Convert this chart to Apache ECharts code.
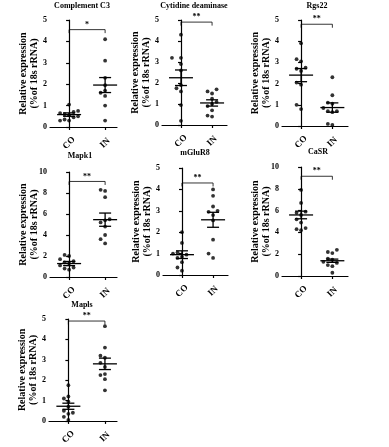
<!DOCTYPE html>
<html><head><meta charset="utf-8">
<script src="https://cdn.jsdelivr.net/npm/echarts@6/dist/echarts.min.js"></script>
<style>html,body{margin:0;padding:0;background:#fff}#c{width:389px;height:447px}</style>
</head><body><div id="c"></div>
<script>
// ---- data ----
const categories = ['CO', 'IN'];
const geneTitles = ['Complement C3', 'Cytidine deaminase', 'Rgs22', 'Mapk1', 'mGluR8', 'CaSR', 'Mapls'];
const yMax = [5, 5, 5, 10, 5, 10, 5];
const yInterval = [1, 1, 1, 2, 1, 2, 1];

const complementC3_CO = [1.05, 0.75, 0.7, 0.65, 0.6, 0.55, 0.5, 0.45, 0.35, 0.3, 0.3];
const complementC3_IN = [4.1, 3.1, 2.3, 1.95, 1.7, 1.6, 1.45, 1.0, 0.3];
const cytidine_CO = [4.3, 3.2, 3.2, 2.9, 2.6, 1.9, 1.75, 1.6, 0.95, 0.2];
const cytidine_IN = [1.7, 1.6, 1.5, 1.25, 1.1, 1.0, 0.9, 0.7, 0.45, 0.4];
const rgs22_CO = [3.9, 3.15, 3.05, 2.75, 2.7, 2.6, 2.05, 1.95, 1.0, 0.8];
const rgs22_IN = [2.3, 1.45, 1.1, 1.05, 0.85, 0.7, 0.7, 0.65, 0.1, 0.05];
const mapk1_CO = [2.1, 2.0, 1.7, 1.5, 1.4, 1.3, 1.1, 0.9, 0.8, 0.7];
const mapk1_IN = [8.3, 8.2, 7.6, 5.5, 5.4, 5.2, 4.8, 4.0, 3.6, 3.2];
const mglur8_CO = [2.0, 1.5, 1.05, 1.0, 0.95, 0.85, 0.8, 0.6, 0.35, 0.2];
const mglur8_IN = [4.0, 3.7, 3.2, 3.0, 2.95, 2.8, 2.55, 1.65, 1.0, 0.8];
const casr_CO = [7.9, 6.7, 5.9, 5.8, 5.6, 5.2, 4.9, 4.4, 4.3, 4.2];
const casr_IN = [2.4, 2.2, 2.1, 1.6, 1.5, 1.3, 1.2, 1.0, 0.9, 0.3];
const mapls_CO = [1.75, 1.2, 1.1, 0.95, 0.7, 0.5, 0.4, 0.35, 0.2, 0.05];
const mapls_IN = [4.65, 3.6, 3.2, 3.1, 2.85, 2.65, 2.3, 2.25, 2.05, 1.5];

const meanCO = [0.58, 2.25, 2.4, 1.28, 0.95, 5.6, 0.72];
const semCO = [0.08, 0.37, 0.31, 0.2, 0.18, 0.35, 0.15];
const meanIN = [1.96, 1.05, 0.87, 5.46, 2.58, 1.4, 2.8];
const semIN = [0.35, 0.15, 0.22, 0.63, 0.35, 0.15, 0.28];

const bracketLevel = [4.55, 4.9, 4.8, 9.1, 4.3, 9.15, 4.9];
const significance = ['*', '**', '**', '**', '**', '**', '**'];

const groupsCO = [complementC3_CO, cytidine_CO, rgs22_CO, mapk1_CO, mglur8_CO, casr_CO, mapls_CO];
const groupsIN = [complementC3_IN, cytidine_IN, rgs22_IN, mapk1_IN, mglur8_IN, casr_IN, mapls_IN];

// ---- layout (pixels) ----
const panels = [
  {left: 50, right: 117, top: 20, bottom: 127, tx: 82, ty: 6, xmin: -0.53, xmax: 1.33},
  {left: 162, right: 227, top: 20, bottom: 125, tx: 194, ty: 6, xmin: -0.61, xmax: 1.48},
  {left: 282, right: 348, top: 20, bottom: 126, tx: 317, ty: 6, xmin: -0.61, xmax: 1.5},
  {left: 50, right: 117, top: 172, bottom: 277, tx: 80, ty: 156, xmin: -0.53, xmax: 1.33},
  {left: 163, right: 228, top: 168, bottom: 275, tx: 195, ty: 153, xmin: -0.61, xmax: 1.48},
  {left: 282, right: 348, top: 167, bottom: 276, tx: 318, ty: 152, xmin: -0.61, xmax: 1.5},
  {left: 49, right: 117, top: 319, bottom: 426, tx: 82, ty: 305, xmin: -0.53, xmax: 1.33}
];

const W = 389, H = 447;
const FONT = '"Liberation Serif", "DejaVu Serif", serif';

// simple beeswarm horizontal offsets (pixels)
function swarm(vals, pxPerUnit) {
  const idx = vals.map((v, i) => i).sort((a, b) => vals[a] - vals[b]);
  const placed = [];
  const offs = new Array(vals.length).fill(0);
  const cands = [0, -4.5, 4.5, -9, 9, -13.5, 13.5];
  idx.forEach(i => {
    const y = vals[i] * pxPerUnit;
    for (const c of cands) {
      const ok = placed.every(p => Math.hypot(p.x - c, p.y - y) >= 4.6);
      if (ok) { offs[i] = c; placed.push({x: c, y}); break; }
    }
  });
  return offs;
}

const grid = [], xAxis = [], yAxis = [], series = [], graphic = [];
panels.forEach((p, k) => {
  grid.push({left: p.left, top: p.top, width: p.right - p.left, height: p.bottom - p.top, containLabel: false});
  graphic.push({type: 'text', x: p.tx, y: p.ty, silent: true,
    style: {text: geneTitles[k], align: 'center', verticalAlign: 'middle',
      font: 'bold 8px ' + FONT, fill: '#000'}});
  xAxis.push({
    type: 'value', gridIndex: k, min: p.xmin, max: p.xmax,
    splitLine: {show: false},
    axisLine: {show: true, onZero: false, lineStyle: {color: '#000', width: 1.2}},
    axisTick: {show: true, length: 3, customValues: [0, 1], lineStyle: {color: '#000', width: 1.2}},
    axisLabel: {show: true, customValues: [0, 1], formatter: v => categories[Math.round(v)] || '',
      rotate: 45, margin: 16, align: 'center', verticalAlign: 'middle',
      fontFamily: FONT, fontSize: 9, fontWeight: 'bold', color: '#000'}
  });
  yAxis.push({
    type: 'value', gridIndex: k, min: 0, max: yMax[k], interval: yInterval[k],
    splitLine: {show: false},
    axisLine: {show: true, lineStyle: {color: '#000', width: 1.2}},
    axisTick: {show: true, length: 3, lineStyle: {color: '#000', width: 1.2}},
    axisLabel: {margin: 3, fontFamily: FONT, fontSize: 8, fontWeight: 'bold', color: '#000'},
    name: 'Relative expression\n(%of 18s rRNA)', nameLocation: 'middle', nameGap: 10, nameRotate: 90,
    nameMoveOverlap: false,
    nameTextStyle: {fontFamily: FONT, fontSize: 10, fontWeight: 'bold', color: '#000', lineHeight: 11}
  });
  const ppu = (p.bottom - p.top) / yMax[k];
  [groupsCO[k], groupsIN[k]].forEach((vals, g) => {
    const offs = swarm(vals, ppu);
    series.push({
      type: 'scatter', xAxisIndex: k, yAxisIndex: k, symbol: 'circle', symbolSize: 3.8,
      itemStyle: {color: '#000'}, silent: true, animation: false,
      data: vals.map((v, i) => ({value: [g, v], symbolOffset: [offs[i], 0]}))
    });
  });
  // mean ± SEM
  series.push({
    type: 'custom', xAxisIndex: k, yAxisIndex: k, animation: false, silent: true,
    data: [[0, meanCO[k], semCO[k]], [1, meanIN[k], semIN[k]]],
    renderItem: (params, api) => {
      const x = api.value(0), m = api.value(1), s = api.value(2);
      const pm = api.coord([x, m]), pu = api.coord([x, m + s]), pl = api.coord([x, m - s]);
      const st = {stroke: '#000', lineWidth: 1.3, fill: null};
      return {type: 'group', children: [
        {type: 'line', shape: {x1: pm[0] - 12, y1: pm[1], x2: pm[0] + 12, y2: pm[1]}, style: st},
        {type: 'line', shape: {x1: pu[0], y1: pu[1], x2: pl[0], y2: pl[1]}, style: st},
        {type: 'line', shape: {x1: pu[0] - 6, y1: pu[1], x2: pu[0] + 6, y2: pu[1]}, style: st},
        {type: 'line', shape: {x1: pl[0] - 6, y1: pl[1], x2: pl[0] + 6, y2: pl[1]}, style: st}
      ]};
    }
  });
  // significance bracket
  series.push({
    type: 'custom', xAxisIndex: k, yAxisIndex: k, animation: false, silent: true,
    data: [[bracketLevel[k]]],
    renderItem: (params, api) => {
      const y = api.value(0);
      const a = api.coord([0, y]), b = api.coord([1, y]);
      return {type: 'group', children: [
        {type: 'polyline', shape: {points: [[a[0], a[1] + 3.5], [a[0], a[1]], [b[0], b[1]], [b[0], b[1] + 3.5]]},
          style: {stroke: '#000', lineWidth: 0.8, fill: null}},
        {type: 'text', style: {text: significance[k], x: (a[0] + b[0]) / 2, y: a[1] - 1,
          align: 'center', verticalAlign: 'bottom', font: 'bold 8px ' + FONT, fill: '#000'}}
      ]};
    }
  });
});

const chart = echarts.init(document.getElementById('c'), null, {renderer: 'canvas', width: W, height: H});
chart.setOption({backgroundColor: '#fff', animation: false, grid, xAxis, yAxis, series, graphic});
</script>
</body></html>
